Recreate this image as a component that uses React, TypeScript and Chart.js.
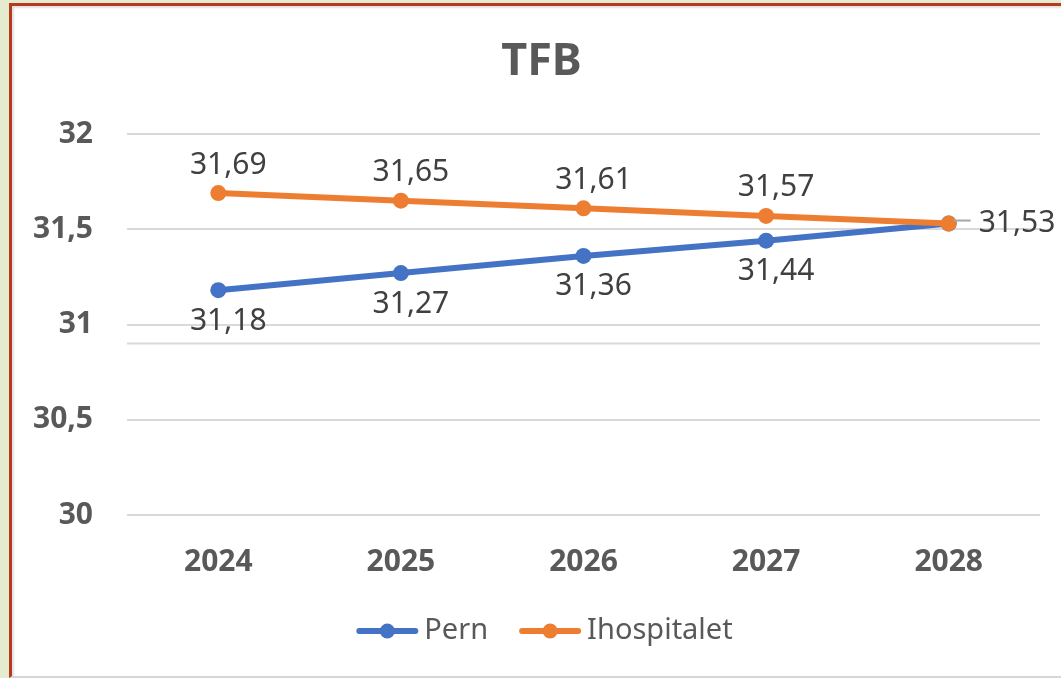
import React, { useEffect, useRef } from "react";
import { Chart, registerables } from "chart.js";

Chart.register(...registerables);

const categories = ["2024", "2025", "2026", "2027", "2028"];
const pernValues = [31.18, 31.27, 31.36, 31.44, 31.53];
const hospValues = [31.69, 31.65, 31.61, 31.57, 31.53];
const seriesNames = ["Pern", "Ihospitalet"];
const titleText = "TFB";
const yMin = 30;
const yMax = 32;
const yStep = 0.5;
const extraLineValue = 30.9;

const BLUE = "#4472C4";
const ORANGE = "#ED7D31";
const FONT = "'Noto Sans', 'DejaVu Sans', sans-serif";

const fmt = (v: number) => v.toFixed(2).replace(".", ",");

const labelsPlugin = {
  id: "valueLabels",
  afterDatasetsDraw(chart: any) {
    const ctx = chart.ctx;
    ctx.save();
    ctx.font = `30px ${FONT}`;
    ctx.fillStyle = "#404040";
    ctx.textBaseline = "middle";
    chart.data.datasets.forEach((ds: any, di: number) => {
      const meta = chart.getDatasetMeta(di);
      meta.data.forEach((pt: any, i: number) => {
        const last = i === ds.data.length - 1;
        const text = fmt(ds.data[i]);
        if (last) {
          if (di !== 1) return;
          ctx.strokeStyle = "#A6A6A6";
          ctx.lineWidth = 2;
          ctx.beginPath();
          ctx.moveTo(pt.x + 5, pt.y - 3);
          ctx.lineTo(pt.x + 22, pt.y - 3);
          ctx.stroke();
          ctx.textAlign = "left";
          ctx.fillText(text, pt.x + 30, pt.y);
        } else if (di === 1) {
          ctx.textAlign = "center";
          ctx.fillText(text, pt.x + 10, pt.y - 28);
        } else {
          ctx.textAlign = "center";
          ctx.fillText(text, pt.x + 10, pt.y + 31);
        }
      });
    });
    ctx.restore();
  },
};

const extraLinePlugin = {
  id: "extraLine",
  beforeDatasetsDraw(chart: any) {
    const { ctx, chartArea, scales } = chart;
    const y = scales.y.getPixelForValue(extraLineValue);
    ctx.save();
    ctx.strokeStyle = "#D9D9D9";
    ctx.lineWidth = 2;
    ctx.beginPath();
    ctx.moveTo(chartArea.left, y);
    ctx.lineTo(chartArea.right, y);
    ctx.stroke();
    ctx.restore();
  },
};

const titlePlugin = {
  id: "customTitle",
  afterDraw(chart: any) {
    const ctx = chart.ctx;
    ctx.save();
    ctx.font = `bold 45px ${FONT}`;
    ctx.fillStyle = "#595959";
    ctx.textAlign = "center";
    ctx.textBaseline = "middle";
    const cx = (chart.chartArea.left + chart.chartArea.right) / 2 - 42;
    ctx.fillText(titleText, cx, chart.chartArea.top - 72);
    ctx.restore();
  },
};

const legendPlugin = {
  id: "customLegend",
  afterDraw(chart: any) {
    const ctx = chart.ctx;
    ctx.save();
    ctx.font = `29px ${FONT}`;
    const lineW = 62;
    const gap = 6;
    const itemGap = 31;
    const items = chart.data.datasets.map((d: any) => ({
      label: d.label,
      color: d.borderColor,
      w: lineW + gap + ctx.measureText(d.label).width,
    }));
    const total = items.reduce((s: number, it: any) => s + it.w, 0) + itemGap * (items.length - 1);
    let x = (chart.chartArea.left + chart.chartArea.right) / 2 - 39 - total / 2;
    const y = chart.chartArea.bottom + 116;
    items.forEach((it: any) => {
      ctx.strokeStyle = it.color;
      ctx.lineWidth = 6;
      ctx.lineCap = "round";
      ctx.beginPath();
      ctx.moveTo(x + 3, y);
      ctx.lineTo(x + lineW - 3, y);
      ctx.stroke();
      ctx.fillStyle = it.color;
      ctx.beginPath();
      ctx.arc(x + lineW / 2, y, 7.5, 0, Math.PI * 2);
      ctx.fill();
      ctx.fillStyle = "#595959";
      ctx.textAlign = "left";
      ctx.textBaseline = "middle";
      ctx.fillText(it.label, x + lineW + gap, y);
      x += it.w + itemGap;
    });
    ctx.restore();
  },
};

export default function App() {
  const ref = useRef<HTMLCanvasElement | null>(null);
  useEffect(() => {
    if (!ref.current) return;
    const chart = new Chart(ref.current, {
      type: "line",
      data: {
        labels: categories,
        datasets: [
          {
            label: seriesNames[0],
            data: pernValues,
            borderColor: BLUE,
            backgroundColor: BLUE,
            pointBackgroundColor: BLUE,
            pointBorderColor: BLUE,
            borderWidth: 6,
            pointRadius: 8,
            pointBorderWidth: 0,
            order: 1,
          },
          {
            label: seriesNames[1],
            data: hospValues,
            borderColor: ORANGE,
            backgroundColor: ORANGE,
            pointBackgroundColor: ORANGE,
            pointBorderColor: ORANGE,
            borderWidth: 6,
            pointRadius: 8,
            pointBorderWidth: 0,
            order: 0,
          },
        ],
      },
      options: {
        animation: false,
        responsive: false,
        maintainAspectRatio: false,
        layout: { padding: { left: 0, right: 21, top: 134, bottom: 0 } },
        plugins: {
          legend: { display: false },
          tooltip: { enabled: false },
          title: { display: false },
        },
        scales: {
          x: {
            offset: true,
            grid: { display: false, drawTicks: false },
            border: { display: false },
            ticks: {
              color: "#595959",
              padding: 29,
              font: { family: FONT, size: 30, weight: "bold", lineHeight: 1.2 },
            },
            afterFit: (s: any) => {
              s.height = 163;
            },
          },
          y: {
            min: yMin,
            max: yMax,
            grid: { color: "#D9D9D9", lineWidth: 2, drawTicks: false },
            border: { display: false },
            ticks: {
              stepSize: yStep,
              color: "#595959",
              padding: 34,
              font: { family: FONT, size: 30, weight: "bold" },
              callback: (v: any) => String(Number(v)).replace(".", ","),
            },
            afterFit: (s: any) => {
              s.width = 127;
            },
          },
        },
      },
      plugins: [extraLinePlugin, labelsPlugin, titlePlugin, legendPlugin],
    });
    return () => chart.destroy();
  }, []);

  return (
    <div style={{ position: "fixed", left: 0, top: 0, width: 1061, height: 678, background: "#E4EBCE", overflow: "hidden" }}>
      <div
        style={{
          position: "absolute",
          left: 9,
          top: 3,
          right: 0,
          bottom: 0,
          background: "#FFFFFF",
          borderLeft: "3px solid #B73A1E",
          borderTop: "3px solid #B73A1E",
          borderBottom: "2px solid #D6D6D6",
          boxShadow: "inset 2px 2px 2px rgba(0,0,0,0.12)",
        }}
      />
      <canvas ref={ref} width={1061} height={678} style={{ position: "absolute", left: 0, top: 0, width: 1061, height: 678 }} />
    </div>
  );
}
